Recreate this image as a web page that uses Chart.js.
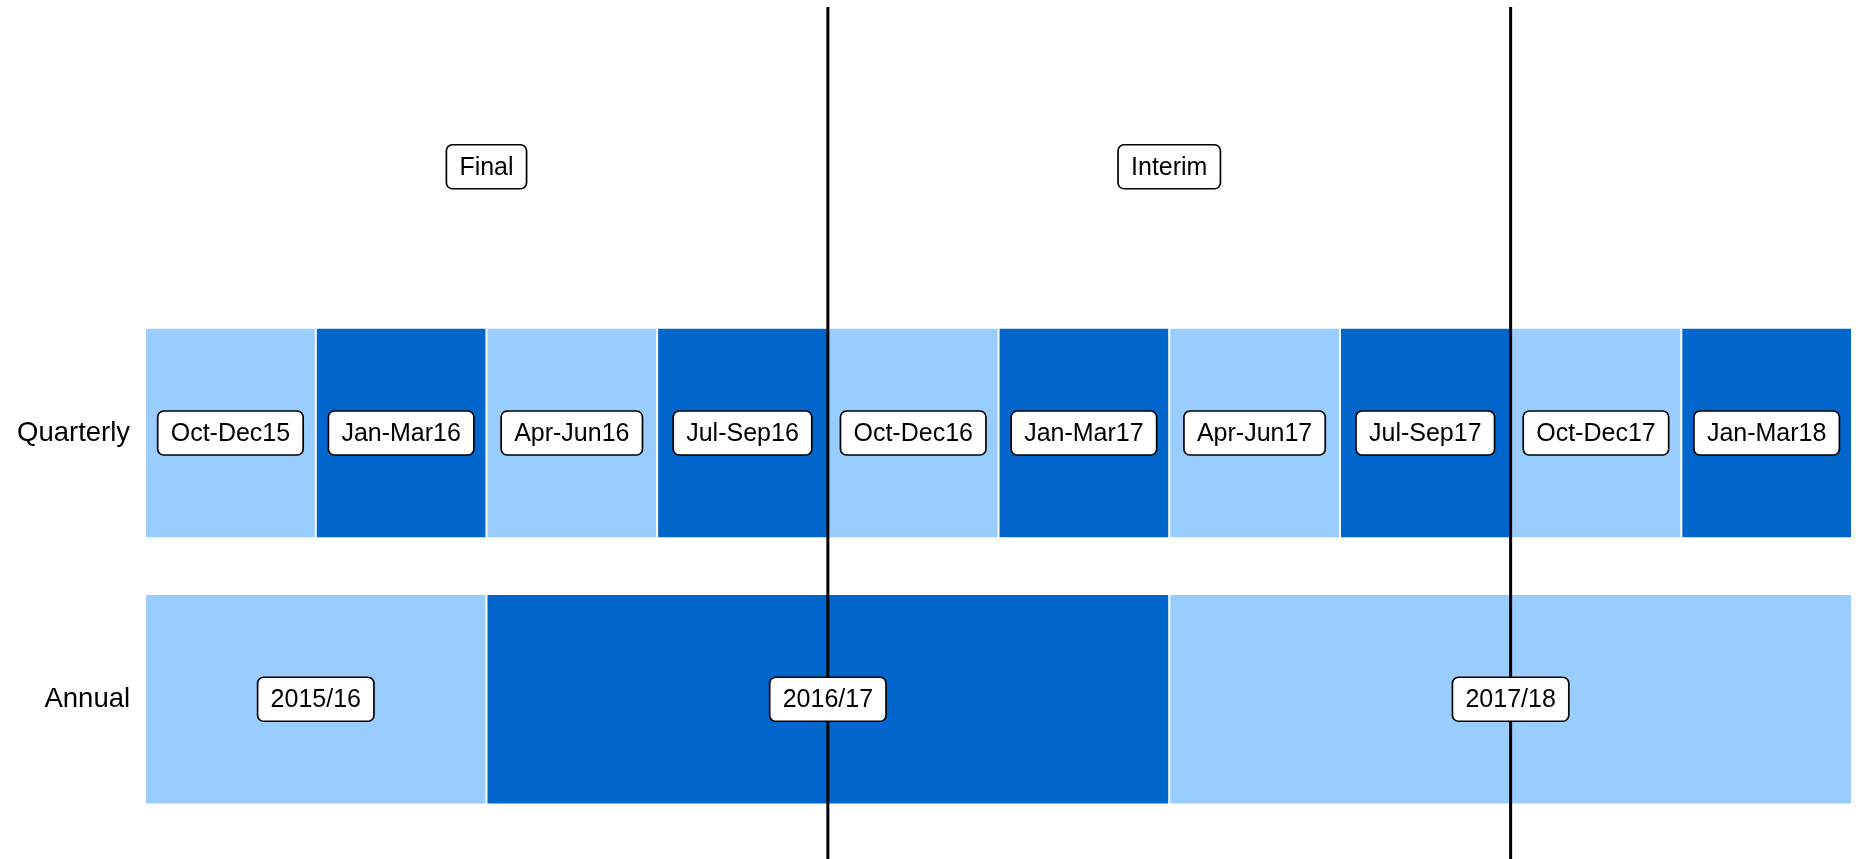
<!DOCTYPE html>
<html lang="en">
<head>
<meta charset="UTF-8">
<title>Final and interim periods</title>
<script src="https://cdn.jsdelivr.net/npm/chart.js"></script>
<style>
  html, body { margin: 0; padding: 0; background: #fff; overflow: hidden; }
  canvas { display: block; }
</style>
</head>
<body>
<canvas id="chart" width="1856" height="859"></canvas>
<script>
const quarters = ['Oct-Dec15', 'Jan-Mar16', 'Apr-Jun16', 'Jul-Sep16', 'Oct-Dec16',
                  'Jan-Mar17', 'Apr-Jun17', 'Jul-Sep17', 'Oct-Dec17', 'Jan-Mar18'];
const years = ['2015/16', '2016/17', '2017/18'];
const yearStarts = [0, 2, 6];   // in quarters from Oct-Dec15
const yearEnds = [2, 6, 10];
const rows = ['Annual', 'Quarterly'];
const phases = ['Final', 'Interim'];
const phaseCentres = [2, 6];
const cutoffs = [4, 8];

const LIGHT = '#99ccff';
const DARK = '#0066cc';
const FONT = '"Liberation Sans", Arial, Helvetica, sans-serif';
const shade = ctx => ctx.dataIndex % 2 ? DARK : LIGHT;

const quarterBars = quarters.map((q, i) => ({ x: [i, i + 1], y: 2 }));
const yearBars = years.map((yr, i) => ({ x: [yearStarts[i], yearEnds[i]], y: 1 }));
const phasePoints = phases.map((p, i) => ({ x: phaseCentres[i], y: 3 }));

// white rounded boxes with text, drawn over everything (like geom_label)
const boxLabels = {
  id: 'boxLabels',
  afterDatasetsDraw(chart) {
    const c = chart.ctx;
    c.save();
    c.font = '25px ' + FONT;
    c.textAlign = 'center';
    c.textBaseline = 'middle';
    chart.data.datasets.forEach((ds, di) => {
      if (!ds.boxLabels) return;
      chart.getDatasetMeta(di).data.forEach((el, i) => {
        const p = el.getCenterPoint();
        const txt = ds.boxLabels[i];
        const w = c.measureText(txt).width + 26;
        const h = 44;
        c.beginPath();
        c.roundRect(p.x - w / 2, p.y - h / 2, w, h, 6);
        c.fillStyle = '#fff';
        c.fill();
        c.lineWidth = 1.7;
        c.strokeStyle = '#000';
        c.stroke();
        c.fillStyle = '#000';
        c.fillText(txt, p.x, p.y + 1);
      });
    });
    c.restore();
  }
};

const barStyle = {
  type: 'bar',
  indexAxis: 'y',
  backgroundColor: shade,
  borderColor: '#fff',
  borderWidth: 1,
  borderSkipped: false,
  grouped: false,
  barPercentage: 1,
  categoryPercentage: 0.79,
  order: 3
};

new Chart(document.getElementById('chart'), {
  type: 'bar',
  data: {
    datasets: [
      { ...barStyle, label: 'Quarterly', data: quarterBars, boxLabels: quarters },
      { ...barStyle, label: 'Annual', data: yearBars, boxLabels: years },
      ...cutoffs.map(v => ({
        type: 'line',
        data: [{ x: v, y: 0.4 }, { x: v, y: 3.6 }],
        borderColor: '#000',
        borderWidth: 3,
        pointRadius: 0,
        order: 1
      })),
      {
        type: 'scatter',
        data: phasePoints,
        pointRadius: 0,
        boxLabels: phases,
        order: 0
      }
    ]
  },
  options: {
    responsive: false,
    devicePixelRatio: 1,
    animation: false,
    layout: { padding: { left: 2, right: 4, top: 7, bottom: 0 } },
    plugins: { legend: { display: false }, tooltip: { enabled: false } },
    scales: {
      x: { type: 'linear', min: 0, max: 10, offset: false, display: false, grid: { offset: false } },
      y: {
        type: 'linear',
        min: 0.4,
        max: 3.6,
        offset: false,
        grid: { display: false, drawTicks: false, offset: false },
        border: { display: false },
        afterBuildTicks: s => { s.ticks = rows.map((r, i) => ({ value: i + 1 })); },
        // row labels sit well inside the range, no need for edge padding
        afterFit: s => { s.paddingTop = 0; s.paddingBottom = 0; },
        ticks: {
          callback: v => rows[v - 1],
          color: '#000',
          padding: 15,
          font: { family: FONT, size: 27.5 }
        }
      }
    }
  },
  plugins: [boxLabels]
});
</script>
</body>
</html>
